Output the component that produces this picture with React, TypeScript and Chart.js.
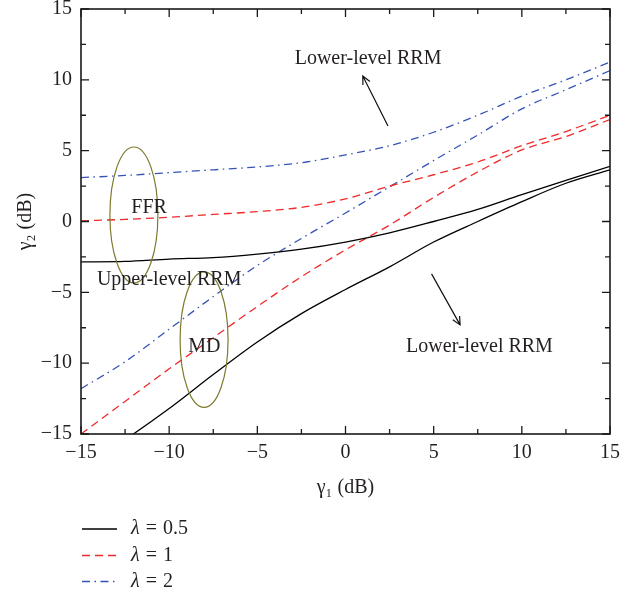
import React, { useEffect, useRef } from 'react';
import { Chart, registerables } from 'chart.js';

Chart.register(...registerables);

// ---- data ----
const gammaX = [-15, -12.5, -10, -7.5, -5, -2.5, 0, 2.5, 5, 7.5, 10, 12.5, 15];
const ffrLambda05 = [-2.85, -2.82, -2.65, -2.55, -2.3, -1.95, -1.45, -0.8, 0.0, 0.85, 1.9, 2.9, 3.9];
const mdLambda05 = [-17.4, -15.4, -13.2, -10.8, -8.5, -6.5, -4.8, -3.2, -1.45, 0.0, 1.4, 2.7, 3.65];
const ffrLambda1 = [0.05, 0.15, 0.3, 0.5, 0.7, 1.0, 1.6, 2.5, 3.3, 4.2, 5.35, 6.35, 7.5];
const mdLambda1 = [-15, -12.7, -10.4, -8.2, -6.0, -3.9, -2.0, -0.25, 1.7, 3.5, 5.05, 6.0, 7.2];
const ffrLambda2 = [3.1, 3.25, 3.45, 3.65, 3.85, 4.15, 4.7, 5.35, 6.3, 7.5, 8.85, 10.0, 11.25];
const mdLambda2 = [-11.8, -9.9, -7.6, -5.3, -3.1, -1.2, 0.6, 2.45, 4.3, 6.1, 7.95, 9.3, 10.65];
const lambdaValues = ['0.5', '1', '2'];
const axisTicks = [-15, -10, -5, 0, 5, 10, 15];
const minorTicks = [-12.5, -7.5, -2.5, 2.5, 7.5, 12.5];

// annotations (data coordinates)
const annotationTexts = [
  { text: 'Lower-level RRM', x: 1.28, y: 11.47 },
  { text: 'Lower-level RRM', x: 7.6, y: -8.82 },
  { text: 'FFR', x: -11.14, y: 0.99 },
  { text: 'Upper-level RRM', x: -10.0, y: -4.13 },
  { text: 'MD', x: -8.0, y: -8.82 },
];
const annotationArrows = [
  { x0: 2.41, y0: 6.74, x1: 0.98, y1: 10.27 },
  { x0: 4.88, y0: -3.7, x1: 6.5, y1: -7.3 },
];
const annotationEllipses = [
  { cx: -12.0, cy: 0.46, rx: 1.36, ry: 4.8 },
  { cx: -8.02, cy: -8.34, rx: 1.36, ry: 4.78 },
];

const FONT = '"Liberation Serif", "DejaVu Serif", serif';
const FS = 20;
const TEXT_COLOR = '#231f20';
const COLORS = ['#000000', '#ee2a2a', '#3553b5'];
const DASHES: number[][] = [[], [8, 5], [8, 4.5, 1.5, 4.5]];

const fmt = (v: number) => (v < 0 ? '\u2212' + Math.abs(v) : String(v));

const decorPlugin = {
  id: 'decor',
  afterDatasetsDraw(chart: any) {
    const { ctx, chartArea: ca, scales } = chart;
    const xs = scales.x;
    const ys = scales.y;
    ctx.save();
    // frame
    ctx.strokeStyle = '#1a1a1a';
    ctx.lineWidth = 1.6;
    ctx.setLineDash([]);
    ctx.strokeRect(ca.left, ca.top, ca.right - ca.left, ca.bottom - ca.top);
    // inward ticks
    ctx.lineWidth = 1.3;
    const drawTick = (v: number, len: number) => {
      const px = xs.getPixelForValue(v);
      const py = ys.getPixelForValue(v);
      ctx.beginPath();
      ctx.moveTo(px, ca.bottom); ctx.lineTo(px, ca.bottom - len);
      ctx.moveTo(px, ca.top); ctx.lineTo(px, ca.top + len);
      ctx.moveTo(ca.left, py); ctx.lineTo(ca.left + len, py);
      ctx.moveTo(ca.right, py); ctx.lineTo(ca.right - len, py);
      ctx.stroke();
    };
    axisTicks.forEach((v) => drawTick(v, 8));
    minorTicks.forEach((v) => drawTick(v, 5));

    // ellipses
    ctx.strokeStyle = '#7d7a2e';
    ctx.lineWidth = 1.2;
    annotationEllipses.forEach((e) => {
      const cx = xs.getPixelForValue(e.cx);
      const cy = ys.getPixelForValue(e.cy);
      const rx = Math.abs(xs.getPixelForValue(e.cx + e.rx) - cx);
      const ry = Math.abs(ys.getPixelForValue(e.cy + e.ry) - cy);
      ctx.beginPath();
      ctx.ellipse(cx, cy, rx, ry, 0, 0, Math.PI * 2);
      ctx.stroke();
    });

    // arrows
    ctx.strokeStyle = '#111';
    ctx.lineWidth = 1.2;
    annotationArrows.forEach((a) => {
      const x0 = xs.getPixelForValue(a.x0), y0 = ys.getPixelForValue(a.y0);
      const x1 = xs.getPixelForValue(a.x1), y1 = ys.getPixelForValue(a.y1);
      const ang = Math.atan2(y1 - y0, x1 - x0);
      const L = 9, w = 0.45;
      ctx.beginPath();
      ctx.moveTo(x0, y0); ctx.lineTo(x1, y1);
      ctx.moveTo(x1 - L * Math.cos(ang - w), y1 - L * Math.sin(ang - w));
      ctx.lineTo(x1, y1);
      ctx.lineTo(x1 - L * Math.cos(ang + w), y1 - L * Math.sin(ang + w));
      ctx.stroke();
    });

    // texts
    ctx.fillStyle = TEXT_COLOR;
    ctx.font = FS + 'px ' + FONT;
    ctx.textAlign = 'center';
    ctx.textBaseline = 'middle';
    annotationTexts.forEach((t) => {
      ctx.fillText(t.text, xs.getPixelForValue(t.x), ys.getPixelForValue(t.y));
    });

    // legend
    const rowY = [529, 555.5, 581.5];
    const ds = chart.data.datasets;
    for (let i = 0; i < 3; i++) {
      const d = ds[i * 2];
      const y = rowY[i];
      ctx.strokeStyle = d.borderColor;
      ctx.lineWidth = 1.4;
      ctx.setLineDash(d.borderDash || []);
      ctx.beginPath();
      ctx.moveTo(82, y); ctx.lineTo(117, y);
      ctx.stroke();
      ctx.setLineDash([]);
      ctx.textAlign = 'left';
      ctx.fillStyle = TEXT_COLOR;
      ctx.font = 'italic ' + FS + 'px ' + FONT;
      ctx.fillText('\u03bb', 131, y);
      let xx = 131 + ctx.measureText('\u03bb').width + 6;
      ctx.font = FS + 'px ' + FONT;
      ctx.fillText('=', xx, y);
      xx += ctx.measureText('=').width + 6;
      ctx.fillText(lambdaValues[i], xx, y);
    }
    ctx.restore();
  },
};

export default function App() {
  const ref = useRef<HTMLCanvasElement | null>(null);
  useEffect(() => {
    if (!ref.current) return;
    const series = [
      [ffrLambda05, mdLambda05],
      [ffrLambda1, mdLambda1],
      [ffrLambda2, mdLambda2],
    ];
    const datasets: any[] = [];
    series.forEach((pair, i) => {
      pair.forEach((vals) => {
        datasets.push({
          label: '\u03bb = ' + lambdaValues[i],
          data: gammaX.map((x, k) => ({ x, y: vals[k] })),
          borderColor: COLORS[i],
          borderDash: DASHES[i],
          borderWidth: 1.3,
          pointRadius: 0,
          fill: false,
          cubicInterpolationMode: 'monotone',
        });
      });
    });
    const chart = new Chart(ref.current, {
      type: 'line',
      data: { datasets },
      plugins: [decorPlugin],
      options: {
        responsive: false,
        animation: false,
        events: [],
        layout: { padding: { left: 0, right: 29, top: 9, bottom: 92 } },
        plugins: { legend: { display: false }, tooltip: { enabled: false } },
        scales: {
          x: {
            type: 'linear',
            min: -15,
            max: 15,
            grid: { display: false, drawTicks: false },
            border: { display: false },
            afterBuildTicks: (s: any) => { s.ticks = axisTicks.map((v) => ({ value: v })); },
            afterFit: (s: any) => { s.height = 70; s.paddingLeft = 0; s.paddingRight = 0; },
            ticks: {
              padding: 7,
              color: TEXT_COLOR,
              font: { family: FONT, size: FS },
              callback: (v: any) => fmt(Number(v)),
              maxRotation: 0,
            },
            title: {
              display: true,
              text: '\u03b3\u2081 (dB)',
              color: TEXT_COLOR,
              font: { family: FONT, size: FS },
              padding: { top: 0, bottom: 4 },
            },
          },
          y: {
            type: 'linear',
            min: -15,
            max: 15,
            grid: { display: false, drawTicks: false },
            border: { display: false },
            afterBuildTicks: (s: any) => { s.ticks = axisTicks.map((v) => ({ value: v })); },
            afterFit: (s: any) => { s.width = 81; s.paddingTop = 0; s.paddingBottom = 0; },
            ticks: {
              padding: 9,
              color: TEXT_COLOR,
              font: { family: FONT, size: FS },
              callback: (v: any) => fmt(Number(v)),
            },
            title: {
              display: true,
              text: '\u03b3\u2082 (dB)',
              color: TEXT_COLOR,
              font: { family: FONT, size: FS },
              padding: { top: 14, bottom: 0 },
            },
          },
        },
      } as any,
    });
    return () => chart.destroy();
  }, []);
  return (
    <div style={{ position: 'absolute', left: 0, top: 0, width: 639, height: 596, background: '#fff' }}>
      <canvas ref={ref} width={639} height={596} style={{ display: 'block', width: 639, height: 596 }} />
    </div>
  );
}
